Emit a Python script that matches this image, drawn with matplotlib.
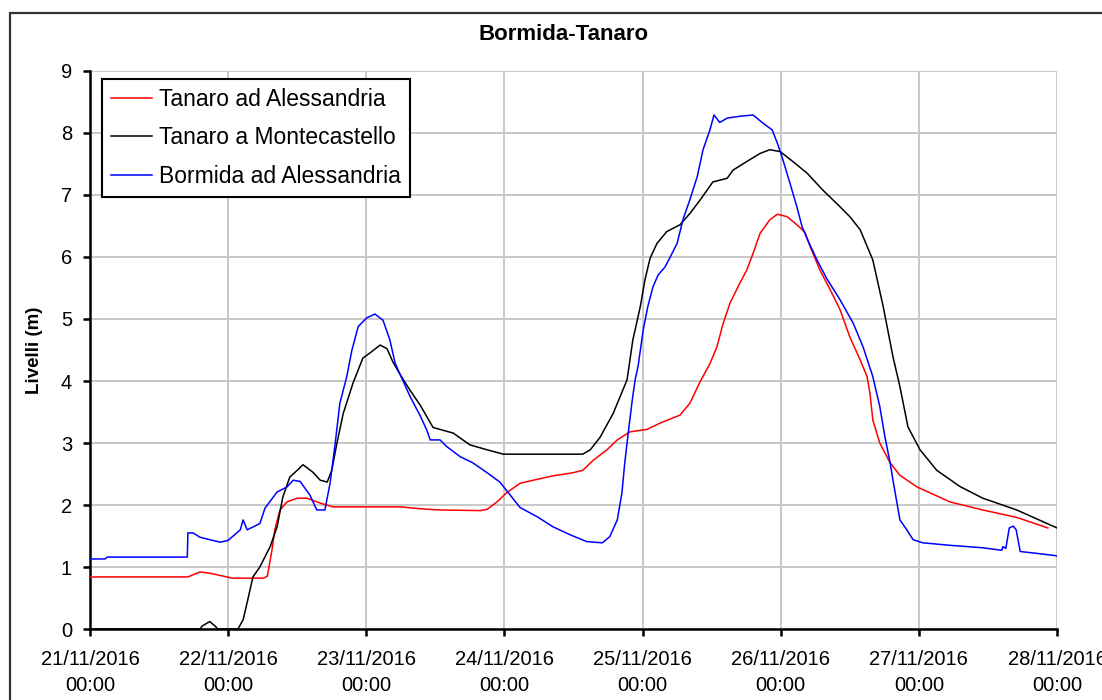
import matplotlib
matplotlib.use("Agg")
import matplotlib.pyplot as plt
import matplotlib.dates as mdates
from matplotlib.patches import Rectangle
import pandas as pd

plt.rcParams['font.family'] = ['Liberation Sans', 'DejaVu Sans']

start = pd.Timestamp("2016-11-21 00:00")

# hours from 21/11/2016 00:00 and levels in metres
tanaro_al_h = [0, 17.0, 19.1, 20.8, 23.8, 24.7, 30.1, 30.8, 31.6, 32.1, 33.0, 34.2, 36.0, 37.7,
               40.0, 42.2, 53.9, 57.3, 60.8, 67.8, 69.0, 70.7, 72.4, 74.7, 77.0, 80.4, 83.9,
               85.6, 87.4, 89.8, 91.6, 93.8, 96.8, 99.0, 102.5, 104.2, 106.0, 107.7, 108.9,
               110.0, 111.2, 112.9, 114.1, 115.2, 116.4, 118.1, 119.4, 121.1, 122.8, 124.2,
               125.1, 126.8, 128.6, 130.3, 132.0, 133.8, 135.0, 135.5, 136.0, 137.2, 139.0,
               140.7, 143.7, 149.4, 155.1, 161.0, 166.4]
tanaro_al_v = [0.84, 0.84, 0.92, 0.90, 0.84, 0.82, 0.82, 0.85, 1.27, 1.60, 1.92, 2.05, 2.11, 2.11,
               2.03, 1.97, 1.97, 1.94, 1.92, 1.91, 1.93, 2.05, 2.20, 2.35, 2.40, 2.47, 2.52,
               2.56, 2.72, 2.89, 3.05, 3.18, 3.22, 3.32, 3.45, 3.64, 3.99, 4.28, 4.55,
               4.93, 5.26, 5.58, 5.79, 6.06, 6.38, 6.60, 6.69, 6.65, 6.52, 6.40,
               6.17, 5.79, 5.47, 5.15, 4.71, 4.34, 4.07, 3.80, 3.37, 3.00, 2.68,
               2.48, 2.29, 2.05, 1.92, 1.80, 1.63]

montecastello_h = [0, 19.1, 19.5, 20.8, 21.7, 22.2, 25.7, 26.6, 27.4, 28.3, 29.5, 31.3, 32.5,
                   33.5, 34.7, 36.0, 37.0, 38.7, 40.0, 41.2, 42.0, 42.9, 44.0, 45.7, 47.4,
                   48.6, 50.4, 51.6, 52.6, 53.9, 55.6, 57.3, 59.6, 63.1, 66.0, 69.0, 71.8,
                   80.4, 85.6, 86.9, 88.6, 90.9, 93.3, 94.3, 95.6, 96.4, 97.3, 98.5, 100.2,
                   102.5, 104.2, 106.0, 108.2, 110.7, 111.7, 114.1, 116.4, 118.1, 119.9,
                   122.1, 124.6, 127.3, 130.3, 132.0, 133.8, 136.0, 137.8, 139.5, 140.7,
                   142.1, 144.2, 147.1, 151.1, 155.1, 161.0, 168.0]
montecastello_v = [0, 0, 0.05, 0.12, 0.05, 0, 0, 0.15, 0.47, 0.84, 1.00, 1.33, 1.65,
                   2.13, 2.45, 2.56, 2.65, 2.53, 2.40, 2.37, 2.56, 3.00, 3.48, 3.97, 4.37,
                   4.45, 4.58, 4.52, 4.31, 4.10, 3.85, 3.62, 3.25, 3.16, 2.97, 2.89, 2.82,
                   2.82, 2.82, 2.89, 3.09, 3.48, 4.02, 4.66, 5.20, 5.63, 5.98, 6.22, 6.41,
                   6.52, 6.70, 6.92, 7.21, 7.27, 7.40, 7.54, 7.67, 7.73, 7.70,
                   7.54, 7.35, 7.08, 6.81, 6.65, 6.44, 5.95, 5.20, 4.39, 3.91,
                   3.26, 2.89, 2.56, 2.30, 2.11, 1.92, 1.63]

bormida_h = [0, 2.6, 3.0, 16.9, 17.0, 17.9, 19.1, 22.6, 24.0, 26.1, 26.6, 27.3, 29.5, 30.4,
             32.5, 34.2, 35.3, 36.5, 38.2, 39.4, 40.8, 41.7, 42.6, 43.4, 44.6, 45.5, 46.6,
             48.1, 49.5, 50.9, 52.1, 53.0, 53.9, 55.6, 57.3, 58.5, 59.1, 60.8, 62.0, 64.3,
             66.5, 69.0, 71.2, 73.0, 74.7, 77.7, 80.4, 83.4, 86.3, 89.0, 90.3, 91.6, 92.4,
             92.9, 93.5, 94.2, 94.7, 95.2, 96.1, 96.9, 97.8, 98.7, 99.9, 100.8, 102.0,
             103.0, 104.2, 105.5, 106.5, 107.7, 108.4, 109.4, 110.7, 112.9, 115.2, 116.9,
             118.5, 119.4, 120.2, 121.6, 122.8, 123.7, 124.7, 126.3, 128.0, 130.3, 132.6,
             134.3, 136.0, 137.2, 138.1, 139.0, 139.5, 140.7, 141.9, 143.0, 144.7, 149.4,
             155.1, 158.4, 158.6, 159.1, 159.7, 160.4, 160.9, 161.6, 164.5, 168.0]
bormida_v = [1.13, 1.13, 1.16, 1.16, 1.55, 1.55, 1.48, 1.40, 1.43, 1.60, 1.76, 1.60, 1.70, 1.95,
             2.21, 2.29, 2.40, 2.38, 2.16, 1.92, 1.92, 2.35, 3.00, 3.64, 4.07, 4.50, 4.88,
             5.02, 5.08, 4.98, 4.66, 4.29, 4.10, 3.75, 3.45, 3.21, 3.05, 3.05, 2.94, 2.78,
             2.68, 2.52, 2.37, 2.16, 1.96, 1.81, 1.65, 1.52, 1.41, 1.39, 1.49, 1.76, 2.19,
             2.68, 3.16, 3.69, 4.02, 4.23, 4.82, 5.20, 5.52, 5.71, 5.84, 6.00, 6.22,
             6.60, 6.92, 7.30, 7.73, 8.05, 8.29, 8.17, 8.24, 8.27, 8.29, 8.16,
             8.05, 7.84, 7.62, 7.19, 6.81, 6.49, 6.27, 5.95, 5.65, 5.31, 4.93,
             4.55, 4.07, 3.59, 3.10, 2.68, 2.40, 1.76, 1.60, 1.44, 1.39, 1.35,
             1.31, 1.27, 1.33, 1.30, 1.63, 1.66, 1.60, 1.25, 1.22, 1.18]

series = [
    ("Tanaro ad Alessandria", tanaro_al_h, tanaro_al_v, "#ff0000"),
    ("Tanaro a Montecastello", montecastello_h, montecastello_v, "#000000"),
    ("Bormida ad Alessandria", bormida_h, bormida_v, "#0000ff"),
]

fig = plt.figure(figsize=(11.02, 7.0), dpi=100)
ax = fig.add_axes([0.0817, 0.1014, 0.8775, 0.7972])

for name, hrs, vals, col in series:
    t = start + pd.to_timedelta(hrs, unit="h")
    ax.plot(t, vals, color=col, lw=1.1, label=name)

ax.set_xlim(start, start + pd.Timedelta(days=7))
ax.set_ylim(0, 9)
ax.set_yticks(range(0, 10))
ax.xaxis.set_major_locator(mdates.DayLocator())
ax.xaxis.set_major_formatter(mdates.DateFormatter("%d/%m/%Y\n%H:%M"))

ax.grid(True, color="#c8c8c8", lw=1.4)
ax.set_axisbelow(True)
for s in ("top", "right"):
    ax.spines[s].set_visible(False)
for s in ("left", "bottom"):
    ax.spines[s].set_linewidth(1.8)
    ax.spines[s].set_zorder(1)

ax.tick_params(axis="both", direction="out", length=5, width=1.8, labelsize=14.5)
ax.tick_params(axis="x", pad=10)
ax.tick_params(axis="y", pad=8)
for lbl in ax.get_xticklabels():
    lbl.set_linespacing(1.5)

ax.set_ylabel("Livelli (m)", fontsize=13.5, fontweight="bold", labelpad=13)
ax.set_title("Bormida-Tanaro", fontsize=16, fontweight="bold", pad=22, x=0.49)

leg = ax.legend(loc="upper left", bbox_to_anchor=(0.0124, 0.9857), borderaxespad=0,
                fontsize=16.5, fancybox=False, framealpha=1, edgecolor="black",
                handlelength=1.8, handletextpad=0.3, labelspacing=0.67, borderpad=0.4)
leg.get_frame().set_linewidth(1.5)

# chart area border
fig.patches.append(Rectangle((10 / 1102, -0.05), 1.2, 0.05 + 687 / 700, transform=fig.transFigure,
                             fill=False, edgecolor="#333333", lw=1.6, clip_on=False))

fig.savefig("out.png", dpi=100)
